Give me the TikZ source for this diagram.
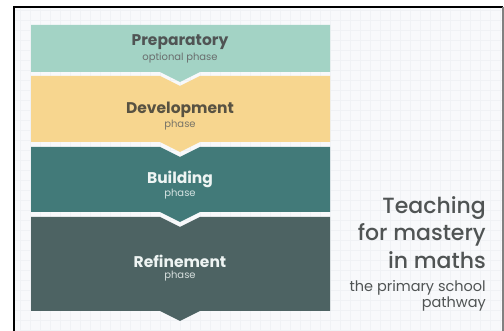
\documentclass[tikz,border=0pt]{standalone}
\usepackage{fontspec}
\setmainfont{Poppins}
\newfontfamily\mediumfont{Poppins Medium}
\definecolor{paper}{RGB}{248,249,251}
\definecolor{gridline}{RGB}{240,242,245}
\definecolor{prepfill}{RGB}{163,211,197}
\definecolor{devfill}{RGB}{247,214,143}
\definecolor{buildfill}{RGB}{66,122,121}
\definecolor{refinefill}{RGB}{77,99,99}
\definecolor{inkgrey}{RGB}{80,84,84}
\definecolor{inkbrown}{RGB}{88,82,66}
\definecolor{inklight}{RGB}{238,244,243}
\tikzset{
  phasename/.style={font=\bfseries\fontsize{15.5}{17}\selectfont, inner sep=0pt},
  phasenote/.style={font=\fontsize{10}{12}\selectfont, inner sep=0pt},
  heading/.style={font=\mediumfont\fontsize{22}{27.5}\selectfont, text=inkgrey, align=right, inner sep=0pt},
  subheading/.style={font=\fontsize{14.5}{16}\selectfont, text=inkgrey, align=right, inner sep=0pt}
}
\begin{document}
\begin{tikzpicture}[x=1pt,y=-1pt]
\useasboundingbox (0,0) rectangle (504,331);
\fill[white] (0,0) rectangle (504,331);
\fill[paper] (14,7) rectangle (503,331);
\draw[gridline, line width=0.4pt, step=10pt] (14,7) grid (503,331);
\draw[line width=2pt] (14,331) -- (14,7) -- (503,7);
\draw[gray, line width=1.5pt] (503,7) -- (503,331);

\fill[prepfill] (31,25) -- (330,25) -- (330,72) -- (200,72) -- (180,82) -- (160,72) -- (31,72) -- cycle;
\fill[devfill] (31,76) -- (160,76) -- (180,86) -- (200,76) -- (330,76) -- (330,142) -- (200,142) -- (180,152) -- (160,142) -- (31,142) -- cycle;
\fill[buildfill] (31,147) -- (160,147) -- (180,157) -- (200,147) -- (330,147) -- (330,212) -- (200,212) -- (180,222) -- (160,212) -- (31,212) -- cycle;
\fill[refinefill] (31,217) -- (160,217) -- (180,227) -- (200,217) -- (330,217) -- (330,311) -- (200,311) -- (180,321) -- (160,311) -- (31,311) -- cycle;

\node[phasename, text=inkgrey] (prep) at (180,42) {Preparatory};
\node[phasenote, text=inkgrey!85] (prepnote) at (180,58) {optional phase};
\node[phasename, text=inkbrown] (dev) at (180,110) {Development};
\node[phasenote, text=inkbrown!80] (devnote) at (180,125) {phase};
\node[phasename, text=inklight] (build) at (180,179) {Building};
\node[phasenote, text=inklight!85!buildfill] (buildnote) at (180,194) {phase};
\node[phasename, text=inklight] (refine) at (180,261) {Refinement};
\node[phasenote, text=inklight!85!refinefill] (refinenote) at (180,276) {phase};

\node[heading, anchor=north east] (title) at (486,196) {Teaching\\for mastery\\in maths};
\node[subheading, anchor=north east] (subtitle) at (486,280) {the primary school\\pathway};
\end{tikzpicture}
\end{document}
